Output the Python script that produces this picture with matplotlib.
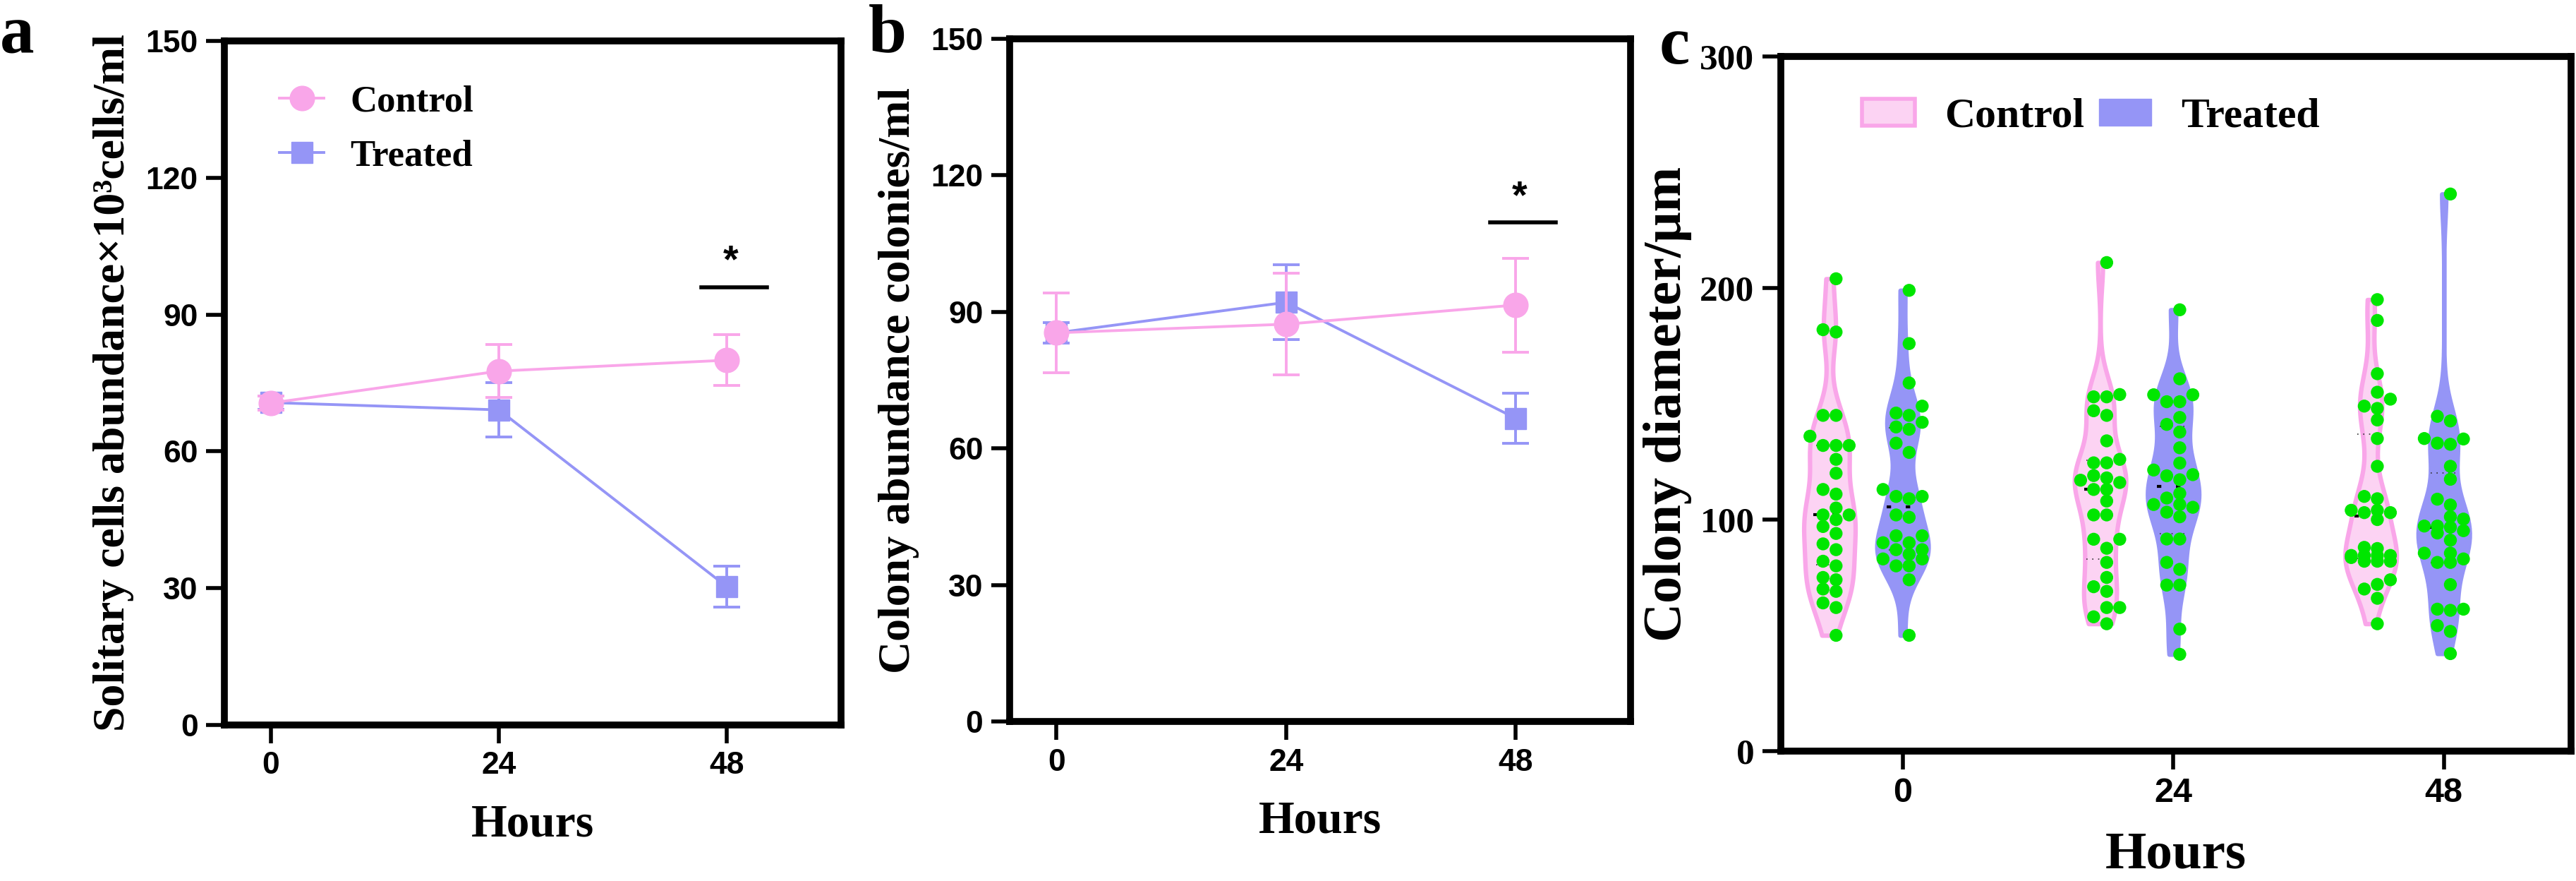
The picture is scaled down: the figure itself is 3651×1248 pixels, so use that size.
import matplotlib
matplotlib.use("Agg")
import matplotlib.pyplot as plt
from matplotlib.lines import Line2D
from matplotlib.patches import Patch
import numpy as np

# ---- data ----
hours = [0, 24, 48]

solitary_control = [70.6, 77.6, 80.0]
solitary_control_err = [1.5, 5.8, 5.6]
solitary_treated = [70.7, 69.1, 30.3]
solitary_treated_err = [1.5, 6.0, 4.5]

colony_control = [85.4, 87.3, 91.5]
colony_control_err = [8.7, 11.2, 10.3]
colony_treated = [85.4, 92.1, 66.6]
colony_treated_err = [2.2, 8.2, 5.5]

diam_control_0 = [182, 145, 132, 111, 105, 100, 94, 87, 80, 74, 69, 62, 50, 204, 181,
                  145, 132, 126, 120, 113, 102, 97, 89.5, 82, 75, 70, 64, 136, 132, 102]
diam_treated_0 = [199, 176, 159, 149, 145, 146, 142, 140, 139, 133, 129, 113, 110, 109, 110,
                  101, 102, 93, 93, 90, 90, 87, 87, 85, 83, 83, 80, 80, 74, 50]
diam_control_24 = [211, 154, 153, 153, 147, 145, 134, 126, 124.5, 124.5, 119, 118, 116, 117, 113,
                   113, 108, 102, 102, 91.5, 91.5, 87.6, 81.5, 75, 71, 69, 62, 62, 58, 55]
diam_treated_24 = [190.6, 160.8, 153.9, 153.9, 150.9, 150.9, 144.1, 141.1, 137.8, 131, 124.4,
                   121.4, 119.4, 118.9, 117.2, 111.3, 109.3, 106.5, 106.5, 105.3, 103.2, 101.2,
                   91.6, 91.6, 81.5, 78.5, 71.7, 71.7, 52.7, 41.8]
diam_control_48 = [195, 186, 163, 155, 152, 149, 148, 143, 135, 123, 109, 110, 104, 104, 103,
                   103, 100, 88, 87.5, 84.5, 84.5, 84.5, 84.5, 83.6, 82, 82, 82, 74, 72, 70, 66, 55]
diam_treated_48 = [240.6, 144.6, 142.6, 135, 133, 132.5, 134.8, 123, 117.4, 108.8, 106.3, 101.2,
                   100.2, 97.2, 97.2, 95.2, 94.2, 96.7, 91.1, 85.5, 85.5, 83, 81.5, 81.5, 71.9,
                   60.8, 61.3, 61.3, 54.2, 51.7, 42.1]

PINK = "#F9A6E9"
PINK_LIGHT = "#FCD3F3"
BLUE = "#9595F6"
GREEN = "#00E600"
SERIF = "Liberation Serif"
SANS = "Liberation Sans"

plt.rcParams["font.family"] = SANS
plt.rcParams["font.weight"] = "bold"

FRAME_LW = 7


def style_frame(ax, labelsize=32):
    for sp in ax.spines.values():
        sp.set_linewidth(FRAME_LW)
    ax.tick_params(direction="out", length=19, width=4, labelsize=labelsize, pad=8)
    for lab in ax.get_xticklabels() + ax.get_yticklabels():
        lab.set_fontweight("bold")


def line_panel(ax, ctrl, ctrl_err, trt, trt_err, sig_y, star_y, ylabel):
    ax.errorbar(hours, trt, yerr=trt_err, color=BLUE, marker="s", ms=22, lw=2.8,
                elinewidth=2.8, capsize=14, capthick=2.8, zorder=3)
    ax.errorbar(hours, ctrl, yerr=ctrl_err, color=PINK, marker="o", ms=25, lw=2.8,
                elinewidth=2.8, capsize=14, capthick=2.8, zorder=4)
    ax.plot([45.3, 52.2], [sig_y, sig_y], color="black", lw=4)
    ax.text(48.4, star_y, "*", ha="center", va="center", fontsize=40, family=SANS)
    ax.set_xlim(-4.9, 60)
    ax.set_ylim(0, 150)
    ax.set_xticks(hours)
    ax.set_yticks([0, 30, 60, 90, 120, 150])
    style_frame(ax)
    ax.set_ylabel(ylabel, family=SERIF, fontsize=46, fontweight="bold", labelpad=12)
    ax.set_xlabel("Hours", family=SERIF, fontsize=47, fontweight="bold", labelpad=24)


def swarm_offsets(vals, d_px, x_px, y_px):
    # half-offset columns like GraphPad; at most four columns per group
    vals = np.asarray(vals, dtype=float)
    placed = []
    offs = np.zeros(len(vals))
    slots = [0.5, -0.5, 1.5, -1.5]
    for i in np.argsort(vals):
        y = vals[i] * y_px
        best, best_gap = None, -1.0
        for k in slots:
            x = k * d_px
            gap = min([np.hypot(x - px, y - py) for px, py in placed] + [1e9])
            if gap >= 0.8 * d_px:
                best = x
                break
            if gap > best_gap:
                best, best_gap = x, gap
        placed.append((best, y))
        offs[i] = best / x_px
    return offs


fig = plt.figure(figsize=(36.51, 12.48), dpi=100)
W, H = 3651, 1248

ax_a = fig.add_axes([318 / W, 1 - 1027 / H, (1192 - 318) / W, (1027 - 58) / H])
ax_b = fig.add_axes([1431 / W, 1 - 1022 / H, (2311 - 1431) / W, (1022 - 55) / H])
ax_c = fig.add_axes([2524 / W, 1 - 1064 / H, (3644 - 2524) / W, (1064 - 80) / H])

line_panel(ax_a, solitary_control, solitary_control_err, solitary_treated, solitary_treated_err,
           96, 101.5, "Solitary cells abundance\u00d710\u00b3cells/ml")
line_panel(ax_b, colony_control, colony_control_err, colony_treated, colony_treated_err,
           109.6, 115, "Colony abundance colonies/ml")

leg_handles = [Line2D([], [], color=PINK, marker="o", ms=25, lw=2.8),
               Line2D([], [], color=BLUE, marker="s", ms=22, lw=2.8)]
ax_a.legend(leg_handles, ["Control", "Treated"], loc="upper left", frameon=False,
            bbox_to_anchor=(0.035, 0.985), handlelength=1.2, handletextpad=0.7,
            labelspacing=0.55, prop={"family": SERIF, "weight": "bold", "size": 38})

# ---- panel c: violins ----
ctrl_sets = [diam_control_0, diam_control_24, diam_control_48]
trt_sets = [diam_treated_0, diam_treated_24, diam_treated_48]
pos_trt = np.array([1.0, 2.0, 3.0])
pos_ctrl = pos_trt - 0.27

ax_c.set_xlim(0.55, 3.47)
ax_c.set_ylim(0, 300)
x_px = (3644 - 2524) / (3.47 - 0.55)
y_px = (1064 - 80) / 300.0

for sets, pos, face, edge in [(ctrl_sets, pos_ctrl, PINK_LIGHT, PINK), (trt_sets, pos_trt, BLUE, BLUE)]:
    parts = ax_c.violinplot(sets, positions=pos, widths=0.19, showextrema=False, bw_method=0.3)
    for body in parts["bodies"]:
        body.set_facecolor(face)
        body.set_edgecolor(edge)
        body.set_linewidth(4.5)
        body.set_alpha(1)
        body.set_zorder(2)
    for data, p in zip(sets, pos):
        q1, med, q3 = np.percentile(data, [25, 50, 75])
        ax_c.plot([p - 0.06, p + 0.06], [med, med], color="black", lw=3,
                  linestyle=(0, (1.5, 5)), zorder=3)
        for q in (q1, q3):
            ax_c.plot([p - 0.05, p + 0.05], [q, q], color="#333333", lw=1.2,
                      linestyle=(0, (1, 4)), zorder=3)
        offs = swarm_offsets(data, 18.5, x_px, y_px)
        ax_c.scatter(p + offs, data, s=175, color=GREEN, edgecolors="none", zorder=4)

ax_c.set_xticks(pos_trt)
ax_c.set_xticklabels(hours)
ax_c.set_yticks([0, 100, 200, 300])
style_frame(ax_c, labelsize=35)
for lab in ax_c.get_yticklabels():
    lab.set_family(SERIF)
    lab.set_fontsize(37)
ax_c.set_ylabel("Colony diameter/\u03bcm", family=SERIF, fontsize=55, fontweight="bold", labelpad=8)
ax_c.set_xlabel("Hours", family=SERIF, fontsize=54, fontweight="bold", labelpad=22)

ax_c.legend([Patch(facecolor=PINK_LIGHT, edgecolor=PINK, lw=4), Patch(facecolor=BLUE, edgecolor=BLUE)],
            ["Control", "Treated"], ncol=2, loc="upper left", frameon=False,
            bbox_to_anchor=(0.055, 0.995), handlelength=1.25, handleheight=0.6,
            handletextpad=0.7, columnspacing=0.35,
            prop={"family": SERIF, "weight": "bold", "size": 43})

# panel letters
for x, y, s in [(0, 74, "a"), (1231, 73, "b"), (2352, 90, "c")]:
    fig.text(x / W, 1 - y / H, s, family=SERIF, fontweight="bold", fontsize=70,
             ha="left", va="baseline")

fig.savefig("out.png", dpi=100)
